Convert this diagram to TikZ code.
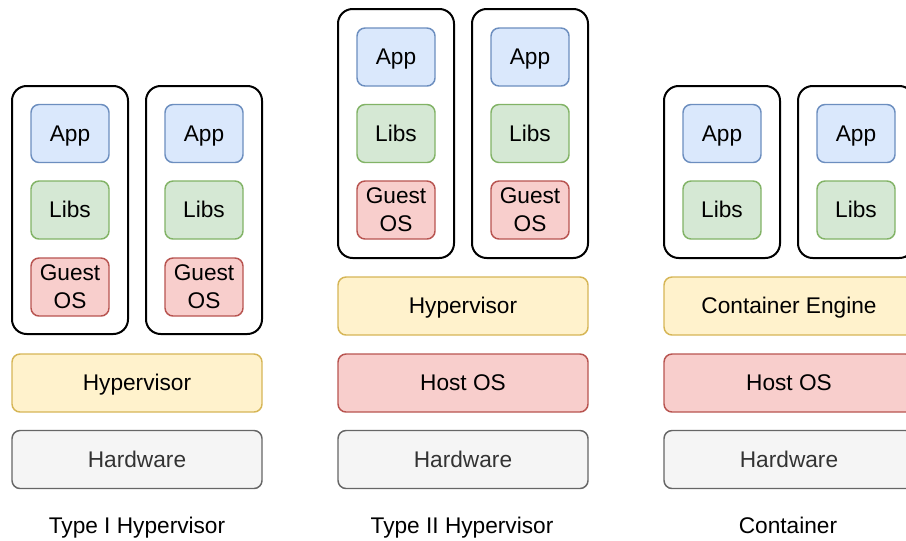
\documentclass[tikz,border=0pt]{standalone}
\usepackage{fontspec}
\setmainfont{Liberation Sans}
\definecolor{appfill}{HTML}{DAE8FC}\definecolor{appline}{HTML}{6C8EBF}
\definecolor{libfill}{HTML}{D5E8D4}\definecolor{libline}{HTML}{82B366}
\definecolor{osfill}{HTML}{F8CECC}\definecolor{osline}{HTML}{B85450}
\definecolor{hypfill}{HTML}{FFF2CC}\definecolor{hypline}{HTML}{D6B656}
\definecolor{hwfill}{HTML}{F5F5F5}\definecolor{hwline}{HTML}{666666}
\definecolor{hwtext}{HTML}{333333}
\begin{document}
\begin{tikzpicture}[x=0.75pt,y=-0.75pt,
  every node/.style={font=\fontsize{17}{21}\selectfont, inner sep=0pt, align=center},
  oneline/.style={text height=11.9pt, text depth=0pt},
  dims/.style 2 args={minimum width=#1*0.75pt, minimum height=#2*0.75pt},
  vmbox/.style={draw=black, fill=white, line width=1.5pt, rounded corners=11pt, dims={116}{#1}},
  smallbox/.style={line width=1.1pt, rounded corners=6pt, dims={78}{58}},
  wide/.style={oneline, line width=1.1pt, rounded corners=6pt, dims={250}{58}},
  app/.style={smallbox, oneline, draw=appline, fill=appfill},
  libs/.style={smallbox, oneline, draw=libline, fill=libfill},
  guest/.style={smallbox, draw=osline, fill=osfill},
  hyper/.style={wide, draw=hypline, fill=hypfill},
  hostos/.style={wide, draw=osline, fill=osfill},
  hardware/.style={wide, draw=hwline, fill=hwfill, text=hwtext},
  caption/.style={oneline}
]
\useasboundingbox (0,0) rectangle (906,540);

% ---- Type I hypervisor ----
\node[vmbox=248] (t1vm1) at (70,210) {};
\node[vmbox=248] (t1vm2) at (204,210) {};
\node[app]   (t1app1)  at (70,133.5) {App};
\node[libs]  (t1libs1) at (70,210) {Libs};
\node[guest] (t1os1)   at (70,287) {Guest\\OS};
\node[app]   (t1app2)  at (204,133.5) {App};
\node[libs]  (t1libs2) at (204,210) {Libs};
\node[guest] (t1os2)   at (204,287) {Guest\\OS};
\node[hyper]    (t1hyp) at (137,383) {Hypervisor};
\node[hardware] (t1hw)  at (137,459.5) {Hardware};
\node[caption]  (t1cap) at (137,526) {Type I Hypervisor};

% ---- Type II hypervisor ----
\node[vmbox=249] (t2vm1) at (396,133.5) {};
\node[vmbox=249] (t2vm2) at (530,133.5) {};
\node[app]   (t2app1)  at (396,57) {App};
\node[libs]  (t2libs1) at (396,133.5) {Libs};
\node[guest] (t2os1)   at (396,210) {Guest\\OS};
\node[app]   (t2app2)  at (530,57) {App};
\node[libs]  (t2libs2) at (530,133.5) {Libs};
\node[guest] (t2os2)   at (530,210) {Guest\\OS};
\node[hyper]    (t2hyp)  at (463,306) {Hypervisor};
\node[hostos]   (t2host) at (463,383) {Host OS};
\node[hardware] (t2hw)   at (463,459.5) {Hardware};
\node[caption]  (t2cap)  at (462,526) {Type II Hypervisor};

% ---- Containers ----
\node[vmbox=172] (ctbox1) at (722,172) {};
\node[vmbox=172] (ctbox2) at (856,172) {};
\node[app]   (ctapp1)  at (722,133.5) {App};
\node[libs]  (ctlibs1) at (722,210) {Libs};
\node[app]   (ctapp2)  at (856,133.5) {App};
\node[libs]  (ctlibs2) at (856,210) {Libs};
\node[hyper]    (cteng)  at (789,306) {Container Engine};
\node[hostos]   (cthost) at (789,383) {Host OS};
\node[hardware] (cthw)   at (789,459.5) {Hardware};
\node[caption]  (ctcap)  at (788,526) {Container};
\end{tikzpicture}
\end{document}
